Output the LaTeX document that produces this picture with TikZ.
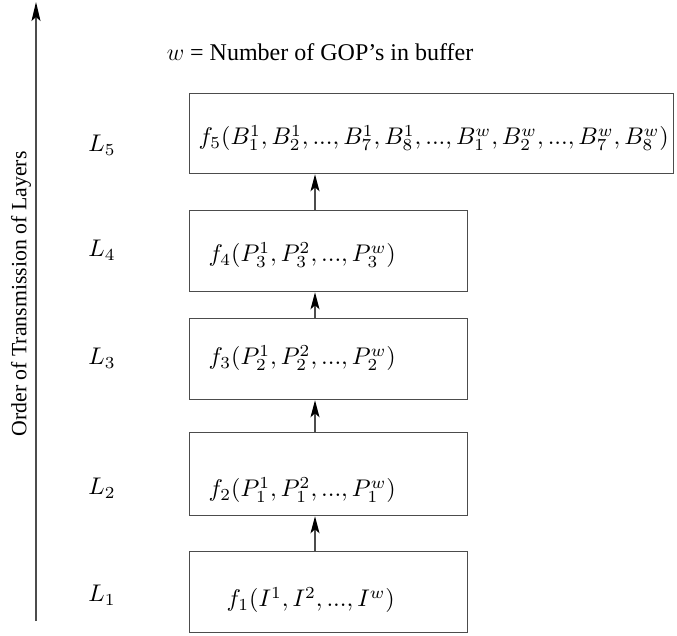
\RequirePackage{fix-cm}
\documentclass[tikz,border=0pt]{standalone}
\usepackage{fontspec}
\setmainfont{Liberation Serif}
\usetikzlibrary{arrows.meta}
\begin{document}
\begin{tikzpicture}[x=1pt,y=-1pt,
  line width=1.3pt,
  lay/.style={draw=black!70, line width=1.3pt, inner sep=0pt, anchor=north west},
  txt/.style={inner sep=0pt, font=\fontsize{24}{28}\selectfont},
  mtxt/.style={inner sep=0pt, scale=2.41},
  conn/.style={draw=black!70, line width=1.3pt, -{Stealth[length=17pt,width=9pt,inset=4pt,color=black]}}]
\useasboundingbox (0,0) rectangle (677,636);
% axis
\coordinate (axb) at (36,621);
\coordinate (axt) at (36,2);
\draw[draw=black!70, line width=1.3pt, -{Stealth[length=19pt,width=9pt,inset=4pt,color=black]}] (axb) -- (axt);
\node[txt, rotate=90, font=\fontsize{21.8}{26}\selectfont] (axlab) at (21,294) {Order of Transmission of Layers};
\node[txt] (title) at (320,52) {$w$ = Number of GOP's in buffer};
% boxes
\node[lay, minimum width=484pt, minimum height=80pt] (b5) at (189,93) {};
\node[lay, minimum width=278pt, minimum height=81pt] (b4) at (189,210) {};
\node[lay, minimum width=278pt, minimum height=81pt] (b3) at (189,318) {};
\node[lay, minimum width=278pt, minimum height=83pt] (b2) at (189,432) {};
\node[lay, minimum width=278pt, minimum height=81pt] (b1) at (189,551) {};
\coordinate (cx) at (315,0);
% box texts
\node[mtxt, anchor=west] (t5) at (197,138) {$f_5(B_1^1, B_2^1, ..., B_7^1, B_8^1, ..., B_1^w, B_2^w, ..., B_7^w, B_8^w)$};
\node[mtxt, anchor=west] (t4) at (207,255) {$f_4(P_3^1, P_3^2, ..., P_3^w)$};
\node[mtxt, anchor=west] (t3) at (207,358) {$f_3(P_2^1, P_2^2, ..., P_2^w)$};
\node[mtxt, anchor=west] (t2) at (207,490) {$f_2(P_1^1, P_1^2, ..., P_1^w)$};
\node[mtxt, anchor=west] (t1) at (225,600) {$f_1(I^1, I^2, ..., I^w)$};
% layer labels
\node[mtxt] (l5) at (102,145) {$L_5$};
\node[mtxt] (l4) at (102,250) {$L_4$};
\node[mtxt] (l3) at (102,358) {$L_3$};
\node[mtxt] (l2) at (102,488) {$L_2$};
\node[mtxt] (l1) at (102,595) {$L_1$};
% connectors
\draw[conn] (b1.north -| cx) -- (b2.south -| cx);
\draw[conn] (b2.north -| cx) -- (b3.south -| cx);
\draw[conn] (b3.north -| cx) -- (b4.south -| cx);
\draw[conn] (b4.north -| cx) -- (b5.south -| cx);
\end{tikzpicture}
\end{document}
